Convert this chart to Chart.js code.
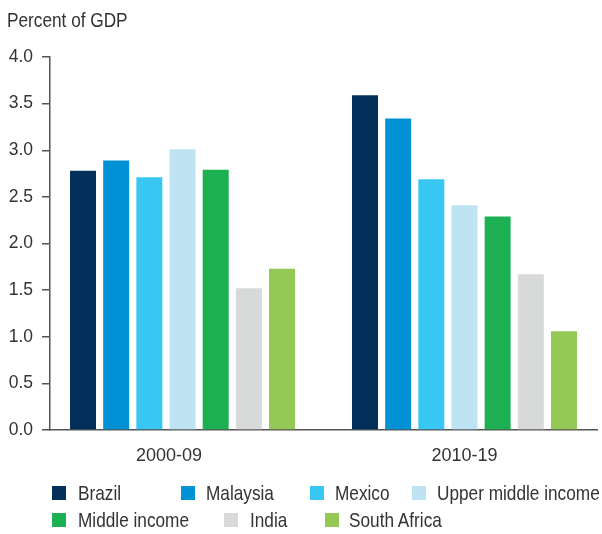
<!DOCTYPE html>
<html><head><meta charset="utf-8">
<script src="https://cdn.jsdelivr.net/npm/chart.js@4"></script>
<style>
html,body{margin:0;padding:0;background:#fff;}
#wrap{position:relative;width:602px;height:534px;overflow:hidden;}
#c{position:absolute;left:0;top:0;}
.t{position:absolute;font-family:"Liberation Sans",Arial,sans-serif;font-size:21px;line-height:21px;color:#333;white-space:nowrap;transform:scaleX(0.82);transform-origin:0 0;}
.sw{position:absolute;width:14px;height:14px;}
</style></head><body>
<div id="wrap"><canvas id="c" width="602" height="534"></canvas>
<div class="t" style="left:7px;top:9px">Percent of GDP</div>
<div id="legend"></div></div>
<script>
// ---- data ----
const periods = ['2000-09', '2010-19'];
const seriesNames = ['Brazil', 'Malaysia', 'Mexico', 'Upper middle income', 'Middle income', 'India', 'South Africa'];
const brazil = [2.78, 3.59];
const malaysia = [2.89, 3.34];
const mexico = [2.71, 2.69];
const upperMiddleIncome = [3.01, 2.41];
const middleIncome = [2.79, 2.29];
const india = [1.52, 1.67];
const southAfrica = [1.73, 1.06];
const yTickStep = 0.5;
const yMin = 0, yMax = 4;

// ---- styles / layout ----
const colors = ['#02305a', '#0192d6', '#38c7f3', '#bee3f3', '#1db052', '#d8d9d9', '#93c954'];
const legendPos = [[52, 78, 486], [181, 206, 486], [310, 335, 486], [412, 437, 486],
                   [52, 78, 513], [224, 250, 513], [325, 349, 513]];

const seriesValues = [brazil, malaysia, mexico, upperMiddleIncome, middleIncome, india, southAfrica];

const datasets = seriesNames.map((name, i) => ({
  label: name,
  data: seriesValues[i].map((v, j) => ({ x: j, y: v })),
  backgroundColor: colors[i],
  borderWidth: 0,
  categoryPercentage: 0.8234,
  barPercentage: 0.784
}));

new Chart(document.getElementById('c').getContext('2d'), {
  type: 'bar',
  data: { datasets },
  options: {
    responsive: false,
    animation: false,
    devicePixelRatio: 1,
    layout: { padding: { top: 57, right: 5, bottom: 64, left: 0 } },
    plugins: { legend: { display: false }, tooltip: { enabled: false } },
    scales: {
      x: {
        type: 'linear', min: -0.47, max: 1.47, offset: false,
        afterBuildTicks: s => { s.ticks = [{ value: -0.048 }, { value: 1 }]; },
        afterFit: s => { s.height = 40; },
        grid: { display: false, drawTicks: false, offset: false },
        border: { display: true, color: '#555', width: 1.5 },
        ticks: {
          padding: 15, color: '#333', autoSkip: false, maxRotation: 0,
          font: { family: '"Liberation Sans",Arial,sans-serif', size: 18 },
          callback: (v, i) => periods[i]
        }
      },
      y: {
        min: yMin, max: yMax,
        afterFit: s => { s.width = 50; },
        grid: { drawOnChartArea: false, drawTicks: true, tickLength: 8, color: '#555', lineWidth: 1.5 },
        border: { display: true, color: '#555', width: 1.5 },
        ticks: {
          stepSize: yTickStep, padding: 9, color: '#333',
          font: { family: '"Liberation Sans",Arial,sans-serif', size: 17.5 },
          callback: v => Number(v).toFixed(1)
        }
      }
    }
  }
});

const lg = document.getElementById('legend');
seriesNames.forEach((name, i) => {
  const [sx, tx, y] = legendPos[i];
  const sw = document.createElement('div');
  sw.className = 'sw';
  sw.style.left = sx + 'px'; sw.style.top = y + 'px'; sw.style.background = colors[i];
  lg.appendChild(sw);
  const t = document.createElement('div');
  t.className = 't';
  t.style.left = tx + 'px'; t.style.top = (y - 4) + 'px';
  t.textContent = name;
  lg.appendChild(t);
});
</script>
</body></html>
